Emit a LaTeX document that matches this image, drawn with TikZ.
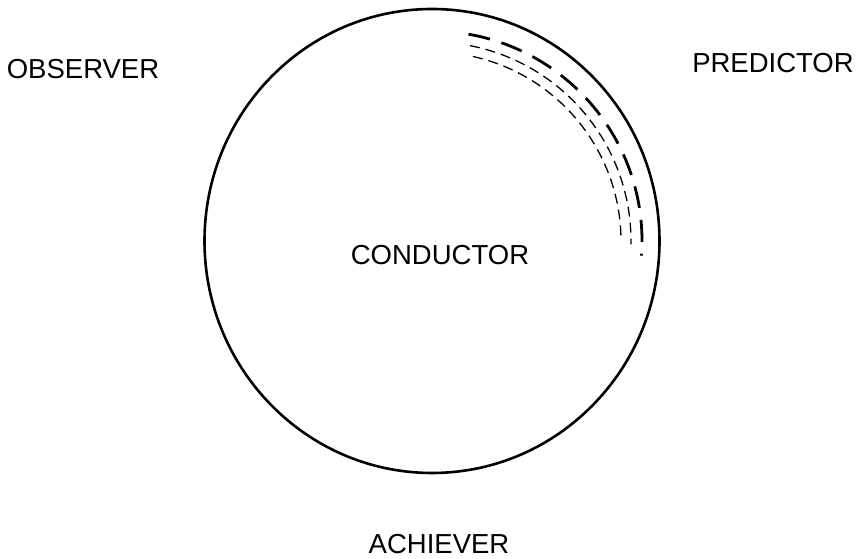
\documentclass[tikz,border=0pt]{standalone}
\usepackage{fontspec}
\setmainfont{Liberation Sans}
\begin{document}
\begin{tikzpicture}[x=1pt,y=1pt,
  lbl/.style={anchor=base,inner sep=0pt,font=\fontsize{27.5}{30}\selectfont},
  thickdash/.style={line width=2.8pt,dash pattern=on 22pt off 12pt},
  thindash/.style={line width=1.3pt,dash pattern=on 10pt off 6pt}]
\useasboundingbox (0,0) rectangle (859,559);
\coordinate (c) at (432,318);
\draw[line width=2.6pt] (c) ellipse [x radius=227.5, y radius=232];
\draw[thickdash] (c) ++(80:210) arc (80:-4:210);
\draw[thindash] (c) ++(79:199) arc (79:-1:199);
\draw[thindash] (c) ++(77.5:189) arc (77.5:1:189);
\node[lbl] (obs) at (83,480) {OBSERVER};
\node[lbl] (pred) at (773,486) {PREDICTOR};
\node[lbl] (cond) at (440,294) {CONDUCTOR};
\node[lbl] (ach) at (439,5) {ACHIEVER};
\end{tikzpicture}
\end{document}
